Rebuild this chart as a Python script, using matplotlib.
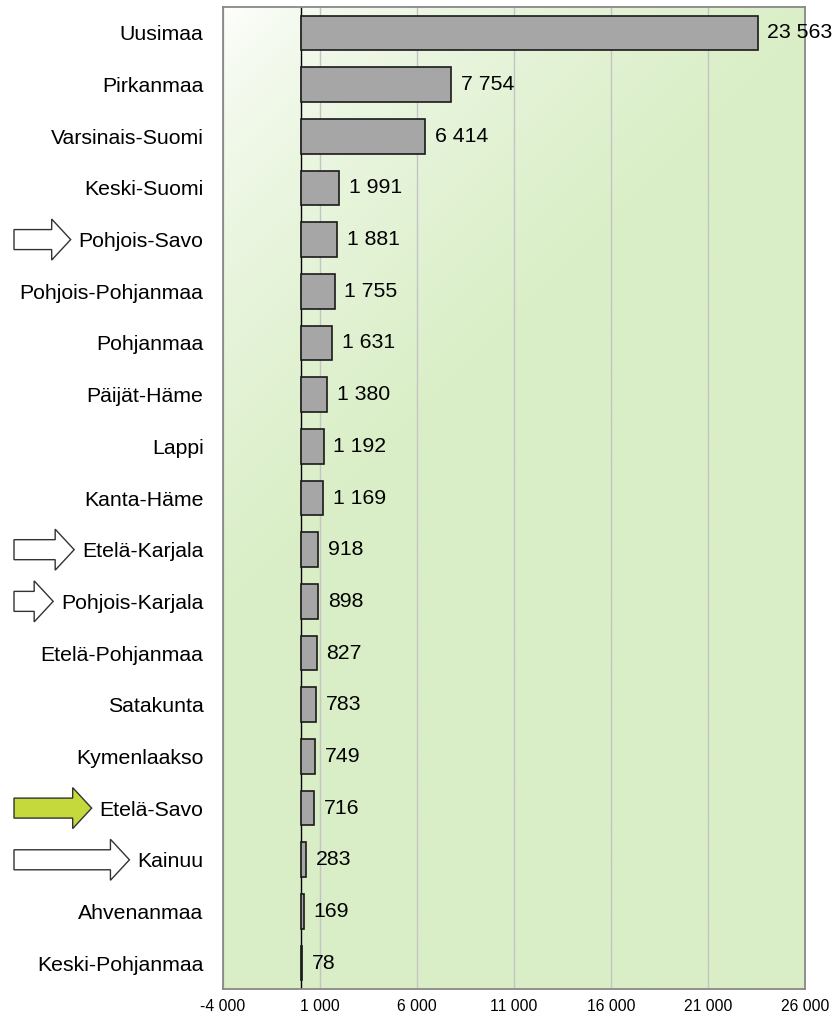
import matplotlib.pyplot as plt
import numpy as np
from matplotlib.patches import Polygon

plt.rcParams['font.family'] = ['Liberation Sans', 'DejaVu Sans']

# Regions and values (top to bottom)
regions = ["Uusimaa", "Pirkanmaa", "Varsinais-Suomi", "Keski-Suomi", "Pohjois-Savo",
           "Pohjois-Pohjanmaa", "Pohjanmaa", "Päijät-Häme", "Lappi", "Kanta-Häme",
           "Etelä-Karjala", "Pohjois-Karjala", "Etelä-Pohjanmaa", "Satakunta",
           "Kymenlaakso", "Etelä-Savo", "Kainuu", "Ahvenanmaa", "Keski-Pohjanmaa"]
values = [23563, 7754, 6414, 1991, 1881, 1755, 1631, 1380, 1192, 1169,
          918, 898, 827, 783, 749, 716, 283, 169, 78]
x_ticks = [-4000, 1000, 6000, 11000, 16000, 21000, 26000]

# Regions marked with an arrow, and the arrow fill
arrow_regions = {"Pohjois-Savo": "white", "Etelä-Karjala": "white",
                 "Pohjois-Karjala": "white", "Etelä-Savo": "#c5d93c",
                 "Kainuu": "white"}


def fmt(v):
    return f"{v:,}".replace(",", " ")


W, H = 837, 1021
fig = plt.figure(figsize=(W / 100, H / 100), dpi=100)
ax = fig.add_axes([223 / W, 32 / H, 582 / W, 982 / H])

# Gradient background: white in the top-left corner, green elsewhere
gx, gy = np.meshgrid(np.linspace(0, 582, 300), np.linspace(0, 982, 300))
t = np.clip((gx + gy) / 620, 0, 1) ** 0.65
green = np.array([217, 238, 198]) / 255
img = np.ones((300, 300, 3)) * (1 - t[..., None]) + green * t[..., None]
ax.imshow(img, extent=[x_ticks[0], x_ticks[-1], len(regions) - 0.5, -0.5],
          aspect="auto", zorder=0, interpolation="bilinear")

y = np.arange(len(regions))
ax.barh(y, values, height=0.67, color="#a6a6a6", edgecolor="#1a1a1a",
        linewidth=1.2, zorder=3)
for yi, v in zip(y, values):
    ax.annotate(fmt(v), (v, yi), xytext=(7, 0), textcoords="offset points",
                va="center", ha="left", fontsize=15.3, color="black", zorder=4)

ax.set_xlim(x_ticks[0], x_ticks[-1])
ax.set_ylim(len(regions) - 0.5, -0.5)
ax.set_xticks(x_ticks)
ax.set_xticklabels([fmt(v) for v in x_ticks], fontsize=11.3)
ax.set_yticks(y)
ax.set_yticklabels(regions, fontsize=15.3)
ax.tick_params(axis="y", length=0, pad=14)
ax.tick_params(axis="x", length=0, pad=7)
ax.grid(axis="x", color="#c4c4c4", linewidth=1, zorder=1)
ax.set_axisbelow(True)
ax.axvline(0, color="black", linewidth=1, zorder=2)
for s in ax.spines.values():
    s.set_color("#888888")
    s.set_linewidth(1.3)

# Arrows pointing at selected region labels
fig.canvas.draw()
renderer = fig.canvas.get_renderer()
for lab in ax.get_yticklabels():
    name = lab.get_text()
    if name not in arrow_regions:
        continue
    bb = lab.get_window_extent(renderer)
    tip = bb.x0 - 8
    tail = 14
    cy = ax.transData.transform((0, regions.index(name)))[1]
    head = 19
    hw, sw = 20.5, 10
    pts = [(tail, cy - sw), (tip - head, cy - sw), (tip - head, cy - hw),
           (tip, cy), (tip - head, cy + hw), (tip - head, cy + sw), (tail, cy + sw)]
    pts = [(px / W, py / H) for px, py in pts]
    fig.patches.append(Polygon(pts, closed=True, transform=fig.transFigure,
                               facecolor=arrow_regions[name], edgecolor="#333333",
                               linewidth=1.0))

fig.savefig("out.png", dpi=100)
